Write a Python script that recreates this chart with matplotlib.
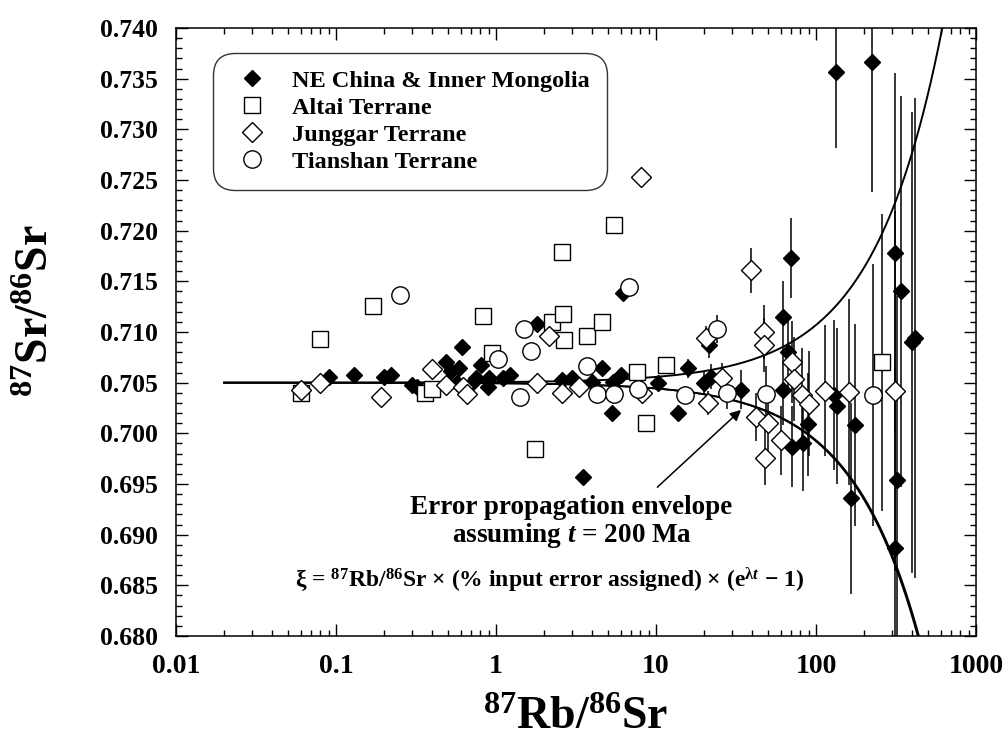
import numpy as np
import matplotlib
matplotlib.use("Agg")
import matplotlib.pyplot as plt
from matplotlib.lines import Line2D
from matplotlib.ticker import MultipleLocator, LogLocator, FixedLocator, FixedFormatter, NullFormatter

plt.rcParams['font.family'] = ['Liberation Serif', 'DejaVu Serif']
plt.rcParams['font.weight'] = 'bold'
plt.rcParams['mathtext.fontset'] = 'custom'
plt.rcParams['mathtext.rm'] = 'Liberation Serif:weight=bold'
plt.rcParams['mathtext.bf'] = 'Liberation Serif:weight=bold'
plt.rcParams['mathtext.it'] = 'Liberation Serif:style=italic:weight=bold'
plt.rcParams['mathtext.default'] = 'bf'

# --- data ---
ne_x = [0.09, 0.13, 0.20, 0.22, 0.30, 0.32, 0.49, 0.52, 0.57, 0.59, 0.61, 0.71, 0.75, 0.81,
        0.89, 0.91, 1.1, 1.22, 1.8, 2.6, 3.0, 3.5, 4.0, 4.6, 5.3, 5.4, 6.0, 6.2, 10.3, 13.7,
        15.8, 20.0, 21.5, 22.0, 34.0, 62.0, 62.0, 67.0, 70.0, 71.0, 83.0, 89.0, 130, 133,
        135, 166, 175, 224, 312, 313, 320, 339, 400, 417]
ne_y = [0.7056, 0.7058, 0.7056, 0.7058, 0.7048, 0.7046, 0.7070, 0.7062, 0.7050, 0.7064, 0.7085,
        0.7050, 0.7055, 0.7067, 0.7046, 0.7055, 0.7055, 0.7058, 0.7108, 0.7053, 0.7055, 0.6957,
        0.7051, 0.7064, 0.7020, 0.7051, 0.7058, 0.7138, 0.7050, 0.7020, 0.7064, 0.7050, 0.7087,
        0.7056, 0.7043, 0.7115, 0.7043, 0.7080, 0.7173, 0.6987, 0.6990, 0.7009, 0.7038, 0.7357,
        0.7027, 0.6936, 0.7008, 0.7366, 0.7178, 0.6887, 0.6954, 0.7140, 0.7090, 0.7094]

altai_x = [0.06, 0.08, 0.17, 0.36, 0.40, 0.83, 0.94, 1.75, 2.24, 2.6, 2.62, 2.66, 3.7, 4.6,
           5.5, 7.6, 8.7, 11.5, 258]
altai_y = [0.7040, 0.7093, 0.7126, 0.7040, 0.7044, 0.7116, 0.7079, 0.6985, 0.7110, 0.7179,
           0.7118, 0.7092, 0.7096, 0.7110, 0.7206, 0.7061, 0.7010, 0.7067, 0.7070]

jung_x = [0.06, 0.079, 0.19, 0.40, 0.49, 0.62, 0.66, 1.8, 2.14, 2.6, 3.3, 8.1, 8.2, 20.5,
          21.0, 25.8, 39, 42, 47, 47, 48, 50, 60, 71, 73, 82, 91, 114, 161, 312]
jung_y = [0.7043, 0.7050, 0.7036, 0.7063, 0.7048, 0.7046, 0.7039, 0.7050, 0.7096, 0.7040,
          0.7046, 0.7253, 0.7040, 0.7094, 0.7030, 0.7055, 0.7161, 0.7016, 0.7100, 0.7087,
          0.6976, 0.7010, 0.6993, 0.7070, 0.7054, 0.7038, 0.7029, 0.7042, 0.7041, 0.7042]

tian_x = [0.25, 1.03, 1.41, 1.50, 1.66, 3.7, 4.3, 5.5, 6.8, 7.7, 15.1, 24, 27.8, 48.7, 227]
tian_y = [0.7137, 0.7073, 0.7036, 0.7103, 0.7081, 0.7066, 0.7039, 0.7039, 0.7144, 0.7044,
          0.7038, 0.7103, 0.7040, 0.7039, 0.7038]

labels = ["NE China & Inner Mongolia", "Altai Terrane", "Junggar Terrane", "Tianshan Terrane"]

# envelope parameters (as stated on the chart)
sr_initial = 0.705
t_age = 200e6          # years
lam = 1.42e-11         # 87Rb decay constant, 1/yr
err_frac = 0.02        # % input error assigned


def xi(x, frac=err_frac):
    return np.asarray(x) * frac * (np.exp(lam * t_age) - 1)


fig = plt.figure(figsize=(10.06, 7.43), dpi=100)
ax = fig.add_axes([176 / 1006, 1 - 636 / 743, 800 / 1006, 608 / 743])

# envelope
xe = np.logspace(np.log10(0.02), 3, 400)
ax.plot(xe, sr_initial + xi(xe), color='k', lw=1.4, zorder=2)
ax.plot(xe, sr_initial - xi(xe), color='k', lw=1.4, zorder=2)
ax.plot(xe, sr_initial - xi(xe, 0.02035), color='k', lw=1.2, zorder=2)

# error bars then markers
series = [
    (ne_x, ne_y, dict(marker='D', ms=8.0, mfc='k', mec='k', mew=1.0)),
    (altai_x, altai_y, dict(marker='s', ms=11.5, mfc='white', mec='k', mew=1.0)),
    (jung_x, jung_y, dict(marker='D', ms=10.0, mfc='white', mec='k', mew=1.0)),
    (tian_x, tian_y, dict(marker='o', ms=12.5, mfc='white', mec='k', mew=1.0)),
]
for sx, sy, style in series:
    ax.errorbar(sx, sy, yerr=xi(sx), fmt='none', ecolor='k', elinewidth=1.1, capsize=0, zorder=3)
for i, (sx, sy, style) in enumerate(series):
    ax.plot(sx, sy, ls='none', zorder=4 + i, **style)

ax.set_xscale('log')
ax.set_xlim(0.01, 1000)
ax.set_ylim(0.680, 0.740)

ax.xaxis.set_major_locator(FixedLocator([0.01, 0.1, 1, 10, 100, 1000]))
ax.xaxis.set_major_formatter(FixedFormatter(['0.01', '0.1', '1', '10', '100', '1000']))
ax.xaxis.set_minor_locator(LogLocator(base=10, subs=np.arange(2, 10)))
ax.xaxis.set_minor_formatter(NullFormatter())
ax.yaxis.set_major_locator(MultipleLocator(0.005))
ax.yaxis.set_minor_locator(MultipleLocator(0.001))
ax.yaxis.set_major_formatter(matplotlib.ticker.FormatStrFormatter('%.3f'))

ax.tick_params(which='both', direction='in', top=True, right=True, width=1.0)
ax.tick_params(which='major', length=8.5, pad=13)
ax.tick_params(which='minor', length=4.3)
ax.tick_params(axis='x', which='major', labelsize=20)
ax.tick_params(axis='y', which='major', labelsize=18.5)
for lab in ax.get_xticklabels() + ax.get_yticklabels():
    lab.set_fontweight('bold')
for sp in ax.spines.values():
    sp.set_linewidth(1.1)

ax.set_xlabel(r'$^{87}$Rb/$^{86}$Sr', fontsize=33, fontweight='bold')
ax.set_ylabel(r'$^{87}$Sr/$^{86}$Sr', fontsize=33, fontweight='bold')
ax.xaxis.set_label_coords(0.5, -0.1)
ax.yaxis.set_label_coords(-0.148, 0.535)

# legend
handles = [Line2D([], [], ls='none', **st) for _, _, st in series]
leg = ax.legend(handles, labels, loc='upper left', bbox_to_anchor=(0.046, 0.959),
                borderaxespad=0, fontsize=17.5, frameon=True, fancybox=True,
                handlelength=1.8, handletextpad=0.75, labelspacing=0.2, borderpad=0.7)
leg.get_frame().set_edgecolor('k')
leg.get_frame().set_linewidth(1.0)
leg.get_frame().set_boxstyle('round,pad=0,rounding_size=0.9')
for t in leg.get_texts():
    t.set_fontweight('bold')

# annotations
ax.text(0.494, 0.212, 'Error propagation envelope', transform=ax.transAxes,
        ha='center', va='center', fontsize=19.5, fontweight='bold')
ax.text(0.495, 0.166, r'assuming $\mathit{t}$ = 200 Ma', transform=ax.transAxes,
        ha='center', va='center', fontsize=19.5, fontweight='bold')
ax.text(0.4675, 0.092,
        r'$\xi$ = $^{87}$Rb/$^{86}$Sr $\times$ (% input error assigned) $\times$ (e$^{\lambda \mathit{t}}$ $-$ 1)',
        transform=ax.transAxes, ha='center', va='center', fontsize=17, fontweight='bold')
ax.annotate('', xy=(35, 0.7025), xytext=(9.9, 0.6945),
            arrowprops=dict(arrowstyle='-|>', color='k', lw=1.1, mutation_scale=16))

fig.savefig('out.png', dpi=100)
